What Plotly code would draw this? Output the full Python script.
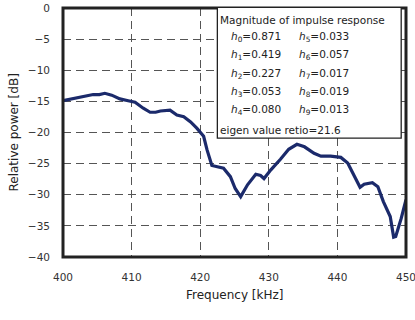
import plotly.graph_objects as go

freq_khz = [400.0, 401.0, 402.0, 403.0, 404.4, 405.3, 406.1, 407.1, 408.3, 409.5, 410.5, 411.7,
            412.7, 413.5, 414.2, 415.6, 416.6, 417.6, 418.6, 419.5, 420.5, 421.0, 421.7, 422.5,
            423.4, 424.4, 425.1, 425.9, 426.9, 428.1, 428.8, 429.3, 430.3, 431.7, 432.9, 434.1,
            435.2, 436.6, 437.6, 439.0, 440.5, 441.5, 442.4, 443.3, 443.9, 445.1, 445.9, 446.7,
            447.7, 448.2, 448.5, 449.3, 450.0]
power_db = [-14.9, -14.7, -14.4, -14.3, -13.9, -13.9, -13.7, -14.0, -14.6, -14.9, -15.15, -16.1,
            -16.75, -16.75, -16.55, -16.4, -17.2, -17.45, -18.3, -19.3, -20.6, -22.8, -25.3, -25.5,
            -25.75, -27.1, -29.0, -30.3, -28.4, -26.7, -26.9, -27.4, -26.0, -24.3, -22.7, -21.9,
            -22.3, -23.35, -23.8, -23.8, -24.0, -24.9, -26.8, -28.8, -28.3, -28.05, -28.7, -31.1,
            -33.5, -36.8, -36.7, -33.8, -30.8]

x_ticks = [400, 410, 420, 430, 440, 450]
y_ticks = [0, -5, -10, -15, -20, -25, -30, -35, -40]
h_left = [("0", "0.871"), ("1", "0.419"), ("2", "0.227"), ("3", "0.053"), ("4", "0.080")]
h_right = [("5", "0.033"), ("6", "0.057"), ("7", "0.017"), ("8", "0.019"), ("9", "0.013")]
legend_title = "Magnitude of impulse response"
eigen_text = "eigen value retio=21.6"
x_title = "Frequency [kHz]"
y_title = "Relative power [dB]"

FONT = "DejaVu Sans"
TXT = "#222"

fig = go.Figure()
fig.add_trace(go.Scatter(x=freq_khz, y=power_db, mode="lines",
                         line=dict(color="#1b2a6b", width=3.2),
                         showlegend=False, hoverinfo="skip"))

axis_common = dict(showgrid=True, gridcolor="#555", griddash="8px,5px", gridwidth=1,
                   zeroline=False, showline=False, ticks="", automargin=False,
                   ticklabeloverflow="allow", ticklabelstandoff=12,
                   tickfont=dict(family=FONT, size=10.5, color="#333"))

fig.update_layout(
    width=415, height=320,
    margin=dict(l=63, r=9, t=8, b=63),
    paper_bgcolor="white", plot_bgcolor="white",
    font=dict(family=FONT, size=11, color=TXT),
    xaxis=dict(range=[400, 450], tickvals=x_ticks, ticktext=[str(v) for v in x_ticks], **axis_common),
    yaxis=dict(range=[-40, 0], tickvals=y_ticks,
               ticktext=[str(v).replace("-", "\u2212") for v in y_ticks], **axis_common),
)

# axis titles
fig.add_annotation(x=0.5, y=-(295 - 257) / 249, xref="paper", yref="paper", text=x_title,
                   showarrow=False, xanchor="center", yanchor="middle",
                   font=dict(family=FONT, size=12, color=TXT))
fig.add_annotation(x=-(63 - 13) / 343, y=0.5, xref="paper", yref="paper", text=y_title,
                   showarrow=False, textangle=-90, xanchor="center", yanchor="middle",
                   font=dict(family=FONT, size=12, color=TXT))

# plot frame
fig.add_shape(type="rect", xref="paper", yref="paper", x0=0, x1=1, y0=0, y1=1,
              line=dict(color="#222", width=3), layer="above")

# info box
fig.add_shape(type="rect", xref="x", yref="y", x0=422.5, x1=449.3, y0=-20.9, y1=0.1,
              line=dict(color="#222", width=1.3), fillcolor="white", layer="above")

BOXF = dict(family=FONT, size=10.5, color=TXT)
fig.add_annotation(x=422.6, y=-1.9, xref="x", yref="y", text=legend_title, showarrow=False,
                   xanchor="left", yanchor="middle", font=BOXF)
for i, ((n, v), (m, w)) in enumerate(zip(h_left, h_right)):
    yy = -4.65 - i * 2.95
    fig.add_annotation(x=424.2, y=yy, xref="x", yref="y",
                       text=f"<i>h</i><sub>{n}</sub>={v}", showarrow=False,
                       xanchor="left", yanchor="middle", font=BOXF)
    fig.add_annotation(x=434.1, y=yy, xref="x", yref="y",
                       text=f"<i>h</i><sub>{m}</sub>={w}", showarrow=False,
                       xanchor="left", yanchor="middle", font=BOXF)
fig.add_annotation(x=422.6, y=-19.6, xref="x", yref="y", text=eigen_text, showarrow=False,
                   xanchor="left", yanchor="middle", font=BOXF)

fig.write_html("out.html", config={"displayModeBar": False},
               post_script="document.body.style.margin='0';")
